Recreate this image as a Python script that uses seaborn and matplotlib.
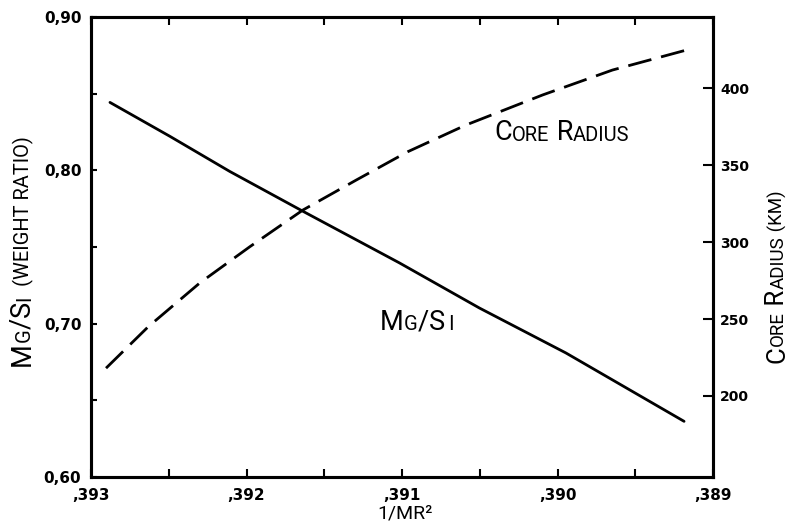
import matplotlib
matplotlib.use("Agg")
import matplotlib.pyplot as plt
import seaborn as sns
import pandas as pd
from matplotlib.ticker import FixedLocator
from matplotlib.transforms import Bbox

# ---- data ----
inv_mr2_mgsi = [0.392878, 0.392493, 0.392108, 0.391637, 0.391016, 0.390502,
                0.389946, 0.389186]
mg_si = [0.8443, 0.8222, 0.7993, 0.7733, 0.7396, 0.7102, 0.6809, 0.6363]

inv_mr2_core = [0.392904, 0.392632, 0.3923, 0.391979, 0.391637, 0.391294,
                0.390963, 0.390588, 0.390096, 0.389647, 0.389186]
core_radius = [218.0, 245.0, 273.5, 297.0, 320.9, 340.4, 358.8, 376.2, 395.7,
               411.9, 424.5]

x_ticks = [0.393, 0.392, 0.391, 0.390, 0.389]
x_tick_labels = [",393", ",392", ",391", ",390", ",389"]
x_minor = [0.3925, 0.3915, 0.3905, 0.3895]
y_ticks = [0.60, 0.70, 0.80, 0.90]
y_tick_labels = ["0,60", "0,70", "0,80", "0,90"]
y_minor = [0.65, 0.75, 0.85]
r_ticks = [200, 250, 300, 350, 400]
r_tick_labels = ["200", "250", "300", "350", "400"]

sns.set_style("ticks")
plt.rcParams['font.family'] = ['DejaVu Sans']
for k in ('text.color', 'axes.labelcolor', 'xtick.color', 'ytick.color',
          'axes.edgecolor'):
    plt.rcParams[k] = 'black'

LBL = ['Roboto', 'DejaVu Sans']
WT = 'normal'
DESC = 0.24

W, H = 797, 526
fig = plt.figure(figsize=(W / 100, H / 100), dpi=100)
ax = fig.add_axes([91 / W, 1 - 477 / H, 622 / W, 460 / H])
ax2 = ax.twinx()

df1 = pd.DataFrame({"x": inv_mr2_mgsi, "y": mg_si})
df2 = pd.DataFrame({"x": inv_mr2_core, "y": core_radius})

sns.lineplot(data=df1, x="x", y="y", ax=ax, color="black", linewidth=2.0)
sns.lineplot(data=df2, x="x", y="y", ax=ax2, color="black", linewidth=2.0)
ax2.lines[0].set_linestyle((0, (8.6, 3.6)))

ax.set_xlim(0.393, 0.389)
ax.set_ylim(0.60, 0.90)
ax2.set_ylim(147.3, 446.4)

ax.xaxis.set_major_locator(FixedLocator(x_ticks))
ax.xaxis.set_minor_locator(FixedLocator(x_minor))
ax.set_xticklabels(x_tick_labels, fontsize=11, fontweight='bold')
ax.yaxis.set_major_locator(FixedLocator(y_ticks))
ax.yaxis.set_minor_locator(FixedLocator(y_minor))
ax.set_yticklabels(y_tick_labels, fontsize=11, fontweight='bold')
ax2.yaxis.set_major_locator(FixedLocator(r_ticks))
ax2.set_yticklabels(r_tick_labels, fontsize=10, fontweight='bold')

ax.tick_params(axis='x', which='both', direction='in', top=True, bottom=True,
               length=6, width=1.5, pad=8)
ax.tick_params(axis='y', which='both', direction='in', left=True, right=False,
               length=4, width=1.5, pad=7)
ax2.tick_params(axis='y', which='both', direction='in', right=True,
                length=7, width=1.5, pad=5)
ax.set_xlabel("")
ax.set_ylabel("")
ax2.set_ylabel("")

for a in (ax, ax2):
    for s in a.spines.values():
        s.set_visible(True)
        s.set_linewidth(2.2)
        s.set_color("black")


def small_caps(parts, center_px, rotation=0):
    """parts: list of (string, fontsize); center_px: (x, y) from top-left."""
    texts = []
    s0, f0 = parts[0]
    common = dict(family=LBL, fontweight=WT, color='black',
                  annotation_clip=False)
    if rotation == 0:
        first = ax.annotate(s0, xy=(0, 0), xycoords='figure pixels',
                            ha='left', va='bottom', fontsize=f0, **common)
    else:
        first = ax.annotate(s0, xy=(0, 0), xycoords='figure pixels',
                            ha='right', va='bottom', fontsize=f0,
                            rotation=90, **common)
    texts.append(first)
    prev, pf = first, f0
    for s, f in parts[1:]:
        off = DESC * (pf - f)
        if rotation == 0:
            t = ax.annotate(s, xy=(1, 0), xycoords=prev, xytext=(0, off),
                            textcoords='offset points', ha='left', va='bottom',
                            fontsize=f, **common)
        else:
            t = ax.annotate(s, xy=(1, 1), xycoords=prev, xytext=(-off, 0),
                            textcoords='offset points', ha='right',
                            va='bottom', rotation=90, fontsize=f, **common)
        texts.append(t)
        prev, pf = t, f
    fig.canvas.draw()
    r = fig.canvas.get_renderer()
    bb = Bbox.union([t.get_window_extent(r) for t in texts])
    cx, cy = (bb.x0 + bb.x1) / 2, (bb.y0 + bb.y1) / 2
    tx, ty = center_px[0], H - center_px[1]
    new = (tx - cx, ty - cy)
    first.xy = new
    first.xyann = new
    return texts


B, S = 19.5, 14.5
small_caps([("C", B), ("ORE", S), (" R", B), ("ADIUS", S)], (562, 133))
small_caps([("M", B), ("G", S), ("/", B), ("S", B), ("\u2009I", S)], (417, 322))
small_caps([("M", B), ("G", S), ("/", B), ("S", B), ("I", S),
            ("  (WEIGHT RATIO)", S)], (22, 251), rotation=90)
small_caps([("C", 18.5), ("ORE", 13.5), (" R", 18.5), ("ADIUS", 13.5),
            (" (KM)", 13.5)], (777, 277), rotation=90)
small_caps([("1/MR\u00b2", 14)], (405, 514))

fig.savefig("out.png", dpi=100)
